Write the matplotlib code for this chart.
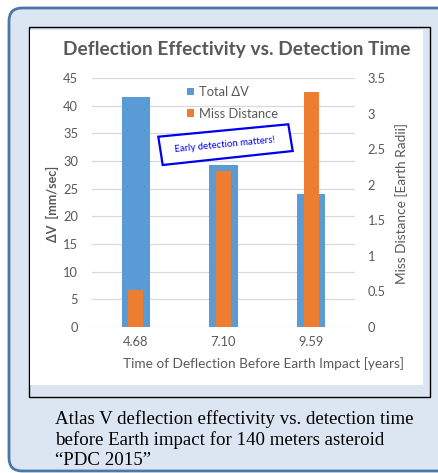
import matplotlib
matplotlib.use("Agg")
import matplotlib.pyplot as plt
from matplotlib.patches import FancyBboxPatch, Rectangle, Polygon
import numpy as np

# ---- data ----
categories = ["4.68", "7.10", "9.59"]
total_dv = [41.6, 29.3, 24.0]          # mm/sec (left axis)
miss_distance = [0.52, 2.19, 3.30]      # Earth radii (right axis)
left_ticks = [0, 5, 10, 15, 20, 25, 30, 35, 40, 45]
right_ticks = [0, 0.5, 1, 1.5, 2, 2.5, 3, 3.5]
right_tick_labels = ["0", "0.5", "1", "1.5", "2", "2.5", "3", "3.5"]

W, H = 438, 473
DPI = 100
plt.rcParams['font.family'] = ['Lato', 'DejaVu Sans']

fig = plt.figure(figsize=(W / DPI, H / DPI), dpi=DPI)
fig.patch.set_facecolor('white')

def fx(x):
    return x / W

def fy(y):
    return 1 - y / H

LIGHT = '#dce6f2'
FRAME = '#4a77a8'
GRAY = '#595959'

# outer rounded frame
frame = FancyBboxPatch((fx(9), fy(471)), fx(490) - fx(9), fy(8) - fy(471),
                       boxstyle="round,pad=0,rounding_size=0.03",
                       transform=fig.transFigure, facecolor=LIGHT,
                       edgecolor=FRAME, linewidth=2.0, zorder=0,
                       mutation_aspect=W / H)
fig.patches.append(frame)

# black-bordered chart box
fig.patches.append(Rectangle((fx(28.5), fy(397)), fx(430) - fx(28.5), fy(27) - fy(397),
                             transform=fig.transFigure, facecolor=LIGHT,
                             edgecolor='black', linewidth=1.0, zorder=1))
fig.patches.append(Rectangle((fx(29.5), fy(385)), fx(423) - fx(29.5), fy(30) - fy(385),
                             transform=fig.transFigure, facecolor='white',
                             edgecolor='none', zorder=2))

# axes
ax = fig.add_axes([fx(92), fy(327), fx(355) - fx(92), fy(78) - fy(327)])
ax.set_zorder(3)
ax.patch.set_visible(False)
ax2 = ax.twinx()
ax2.set_zorder(4)

x = np.arange(len(categories))
b1 = ax.bar(x, total_dv, width=0.32, color='#5b9bd5', zorder=2, label='Total ΔV')
b2 = ax2.bar(x, miss_distance, width=0.168, color='#ed7d31', zorder=2, label='Miss Distance')

ax.set_xlim(-0.5, 2.5)
ax.set_ylim(0, 45)
ax2.set_ylim(0, 3.5)
ax.set_yticks(left_ticks)
ax.set_yticklabels([str(t) for t in left_ticks])
ax2.set_yticks(right_ticks)
ax2.set_yticklabels(right_tick_labels)
ax.set_xticks(x)
ax.set_xticklabels(categories)

ax.grid(axis='y', color='#d9d9d9', linewidth=0.9, zorder=0)
ax.set_axisbelow(True)
for a in (ax, ax2):
    for s in a.spines.values():
        s.set_visible(False)
    a.tick_params(length=0, colors=GRAY, labelsize=9.3)
ax.tick_params(axis='y', pad=10)
ax2.tick_params(axis='y', pad=9)
ax.tick_params(axis='x', pad=6.5)

# axis titles
fig.text(fx(52), fy(204), 'ΔV  [mm/sec]', rotation=90, ha='center', va='center',
         fontsize=9, fontweight='bold', color=GRAY)
fig.text(fx(402), fy(203), 'Miss Distance [Earth Radii]', rotation=90, ha='center',
         va='center', fontsize=9.8, color=GRAY)
fig.text(fx(263.5), fy(363.5), 'Time of Deflection Before Earth Impact [years]',
         ha='center', va='center', fontsize=9.8, color=GRAY)

# title
fig.text(fx(237), fy(55), 'Deflection Effectivity vs. Detection Time', ha='center',
         va='baseline', fontsize=13.8, fontweight='bold', color=GRAY)

# legend
leg = fig.legend([b1, b2], ['Total ΔV', 'Miss Distance'], loc='upper left',
                 bbox_to_anchor=(fx(187), fy(86)), bbox_transform=fig.transFigure,
                 frameon=False, fontsize=9.3, handlelength=0.55, handleheight=0.55,
                 handletextpad=0.35, labelspacing=0.75, borderpad=0, borderaxespad=0)
for t in leg.get_texts():
    t.set_color(GRAY)
leg.set_zorder(6)

# annotation box
corners = [(158.3, 136.7), (288.3, 124.3), (292.7, 151.0), (162.7, 165.0)]
fig.patches.append(Polygon([(fx(a), fy(b)) for a, b in corners], closed=True,
                           transform=fig.transFigure, facecolor='white',
                           edgecolor='#0000ee', linewidth=1.6, zorder=7))
fig.text(fx(224.5), fy(145), 'Early detection matters!', rotation=5.5,
         ha='center', va='center', fontsize=6.9, color='#0000ee', zorder=8,
         rotation_mode='anchor')

# caption
cap = ['Atlas V deflection effectivity vs. detection time',
       'before Earth impact for 140 meters asteroid',
       '\u201cPDC 2015\u201d']
for i, line in enumerate(cap):
    fig.text(fx(55), fy(424 + i * 20.5), line, ha='left', va='baseline',
             fontsize=13.6, family='Liberation Serif', color='black')

fig.savefig('out.png', dpi=DPI)
